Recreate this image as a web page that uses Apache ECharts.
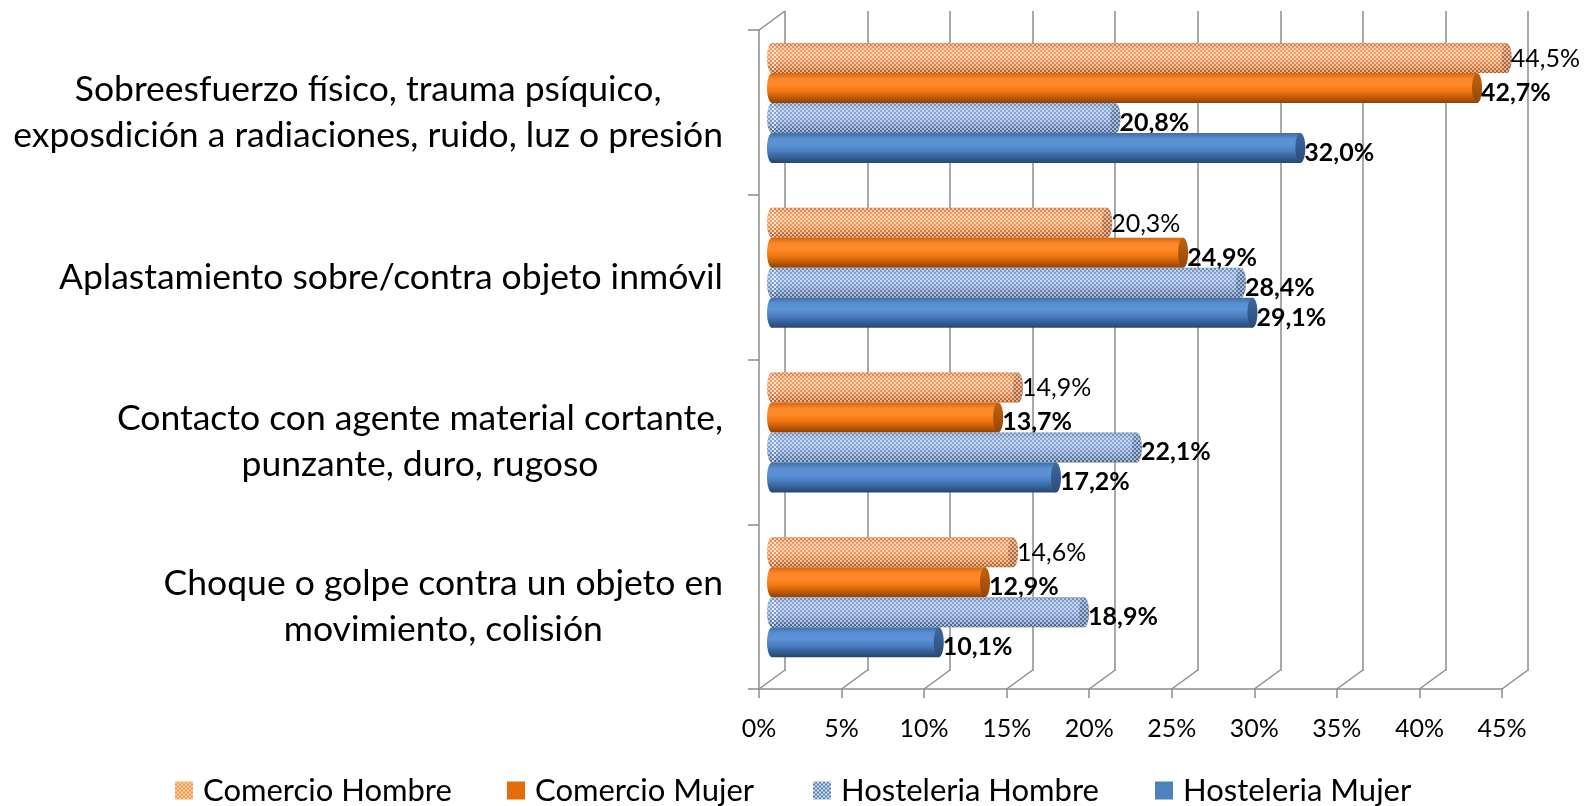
<!DOCTYPE html>
<html>
<head>
<meta charset="utf-8">
<script src="https://cdn.jsdelivr.net/npm/echarts@6/dist/echarts.min.js"></script>
<style>
  html, body { margin: 0; padding: 0; background: #fff; }
  #chart { width: 1589px; height: 806px; }
</style>
</head>
<body>
<div id="chart"></div>
<script>
// datos
const categories = [
  'Sobreesfuerzo físico, trauma psíquico,\nexposdición a radiaciones, ruido, luz o presión',
  'Aplastamiento sobre/contra objeto inmóvil',
  'Contacto con agente material cortante,\npunzante, duro, rugoso',
  'Choque o golpe contra un objeto en\nmovimiento, colisión'
];
const seriesNames = ['Comercio Hombre', 'Comercio Mujer', 'Hosteleria Hombre', 'Hosteleria Mujer'];
const comercioHombre = [44.5, 20.3, 14.9, 14.6];
const comercioMujer = [42.7, 24.9, 13.7, 12.9];
const hosteleriaHombre = [20.8, 28.4, 22.1, 18.9];
const hosteleriaMujer = [32.0, 29.1, 17.2, 10.1];
const xTicks = [0, 5, 10, 15, 20, 25, 30, 35, 40, 45];

const FONT = 'Lato, "Open Sans", sans-serif';
const DEPTH_X = 26, DEPTH_Y = 19;

// patron de cuadritos
function checker(c1, c2, cell) {
  const cv = document.createElement('canvas');
  cv.width = cell * 2; cv.height = cell * 2;
  const ctx = cv.getContext('2d');
  ctx.fillStyle = c1; ctx.fillRect(0, 0, cell * 2, cell * 2);
  ctx.fillStyle = c2;
  ctx.fillRect(0, 0, cell, cell);
  ctx.fillRect(cell, cell, cell, cell);
  return { image: cv, repeat: 'repeat' };
}
const overlay = checker('rgba(255,255,255,0)', 'rgba(255,255,255,0.55)', 2);

function grad(stops) {
  return new echarts.graphic.LinearGradient(0, 0, 0, 1,
    stops.map((c, i) => ({ offset: i / (stops.length - 1), color: c })));
}

const styles = [
  { body: ['#d47a40', '#f29a5c', '#f5a064', '#ee9050', '#d67838', '#a85a22'], cap: ['#c67a48', '#a45a2a'],
    pattern: true, legend: checker('#f79646', '#fbd0aa', 2), bold: false },
  { body: ['#d9650c', '#fb872a', '#ff8a28', '#f27812', '#c85c08', '#8f4206'], cap: ['#c46210', '#934607'],
    pattern: false, legend: '#e46c0a', bold: true },
  { body: ['#6584b4', '#86a6d6', '#86a6d8', '#7898cc', '#5f7fb2', '#445f8a'], cap: ['#6282b2', '#4a6692'],
    pattern: true, legend: checker('#4f81bd', '#d5e0ef', 2), bold: true },
  { body: ['#3f6ea8', '#5a8fd0', '#5b93d6', '#4b80c2', '#37629c', '#27466f'], cap: ['#3d69a0', '#2a4c7a'],
    pattern: false, legend: '#4f81bd', bold: true }
];

function renderBar(idx) {
  const st = styles[idx];
  return function (params, api) {
    const cat = api.value(0);
    const val = api.value(1);
    const band = api.size([0, 1])[1];
    const h = band * 30 / 164.75;
    const p0 = api.coord([0, cat]);
    const p1 = api.coord([val, cat]);
    const y = p0[1] - 2 * h + idx * h;
    const rx = 5;
    const children = [
      { type: 'rect', shape: { x: p0[0], y: y, width: p1[0] - p0[0], height: h },
        style: { fill: grad(st.body) } },
      { type: 'ellipse', shape: { cx: p0[0], cy: y + h / 2, rx: rx, ry: h / 2 },
        style: { fill: grad(st.body) } }
    ];
    if (st.pattern) {
      children.push({ type: 'rect', shape: { x: p0[0], y: y, width: p1[0] - p0[0], height: h },
        style: { fill: overlay } });
      children.push({ type: 'ellipse', shape: { cx: p0[0], cy: y + h / 2, rx: rx, ry: h / 2 },
        style: { fill: overlay } });
    }
    children.push({ type: 'ellipse', shape: { cx: p1[0], cy: y + h / 2, rx: rx, ry: h / 2 },
      style: { fill: grad(st.cap) } });
    if (st.pattern) {
      children.push({ type: 'ellipse', shape: { cx: p1[0], cy: y + h / 2, rx: rx, ry: h / 2 },
        style: { fill: overlay } });
    }
    children.push({ type: 'text',
      style: { text: val.toFixed(1).replace('.', ',') + '%', x: p1[0] + rx - 1,
        y: y + h / 2 + (st.bold ? 5 : 1), verticalAlign: 'middle', align: 'left',
        fontSize: 25, fontFamily: FONT, fontWeight: st.bold ? 'bold' : 'normal', fill: '#000' } });
    return { type: 'group', children: children };
  };
}

const chart = echarts.init(document.getElementById('chart'));
const allValues = [comercioHombre, comercioMujer, hosteleriaHombre, hosteleriaMujer];

const barSeries = allValues.map((vals, i) => ({
  name: seriesNames[i],
  type: 'custom',
  xAxisIndex: 2,
  yAxisIndex: 2,
  renderItem: renderBar(i),
  itemStyle: { color: styles[i].legend },
  encode: { x: 1, y: 0 },
  data: vals.map((v, k) => [k, v]),
  z: 5
}));

// lineas del suelo en perspectiva
const floorSeries = {
  type: 'custom',
  xAxisIndex: 1,
  yAxisIndex: 1,
  silent: true,
  encode: { x: 0 },
  data: xTicks.map(v => [v]),
  renderItem: function (params, api) {
    const cs = params.coordSys;
    const x = api.coord([api.value(0), 0])[0];
    const bottom = cs.y + cs.height;
    const lines = [{ type: 'line', shape: { x1: x, y1: bottom, x2: x + DEPTH_X, y2: bottom - DEPTH_Y },
      style: { stroke: '#8c8c8c', lineWidth: 1.5 } }];
    if (api.value(0) === 0) {
      lines.push({ type: 'line', shape: { x1: x, y1: cs.y, x2: x + DEPTH_X, y2: cs.y - DEPTH_Y },
        style: { stroke: '#8c8c8c', lineWidth: 1.5 } });
    }
    return { type: 'group', children: lines };
  },
  z: 1
};

const legendLefts = [170, 502, 808, 1150];

const option = {
  animation: false,
  grid: [
    { left: 785, top: 11, width: 743, height: 660 },
    { left: 759, top: 30, width: 743, height: 659 },
    { left: 772, top: 20.5, width: 743, height: 659 }
  ],
  legend: seriesNames.map((n, i) => ({
    data: [{ name: n, icon: 'rect' }],
    left: legendLefts[i],
    top: 770,
    itemWidth: 18,
    itemHeight: 18,
    textStyle: { fontSize: 31, fontFamily: FONT, color: '#000', padding: [0, 0, 0, 5] },
    selectedMode: false
  })),
  xAxis: [
    { gridIndex: 0, type: 'value', min: 0, max: 45, interval: 5,
      axisLine: { show: false }, axisTick: { show: false }, axisLabel: { show: false },
      splitLine: { show: true, lineStyle: { color: '#8c8c8c', width: 1.5 } } },
    { gridIndex: 1, type: 'value', min: 0, max: 45, interval: 5,
      axisLine: { show: true, lineStyle: { color: '#8c8c8c', width: 1.5 } },
      axisTick: { show: true, length: 9, lineStyle: { color: '#8c8c8c', width: 1.5 } },
      axisLabel: { formatter: '{value}%', fontSize: 25, fontFamily: FONT, color: '#000', margin: 27 },
      splitLine: { show: false } },
    { gridIndex: 2, type: 'value', min: 0, max: 45, show: false, splitLine: { show: false } }
  ],
  yAxis: [
    { gridIndex: 0, type: 'category', data: categories, inverse: true, show: false },
    { gridIndex: 1, type: 'category', data: categories, inverse: true,
      axisLine: { show: true, lineStyle: { color: '#8c8c8c', width: 1.5 } },
      axisTick: { show: true, length: 11, lineStyle: { color: '#8c8c8c', width: 1.5 } },
      axisLabel: {
        margin: 36,
        formatter: v => v.split('\n').map(l => '{c|' + l + '}').join('\n'),
        rich: { c: { align: 'center', fontSize: 35.5, fontFamily: FONT, color: '#000', lineHeight: 46 } }
      },
      splitLine: { show: false } },
    { gridIndex: 2, type: 'category', data: categories, inverse: true, show: false }
  ],
  series: [floorSeries].concat(barSeries)
};

chart.setOption(option);
</script>
</body>
</html>
